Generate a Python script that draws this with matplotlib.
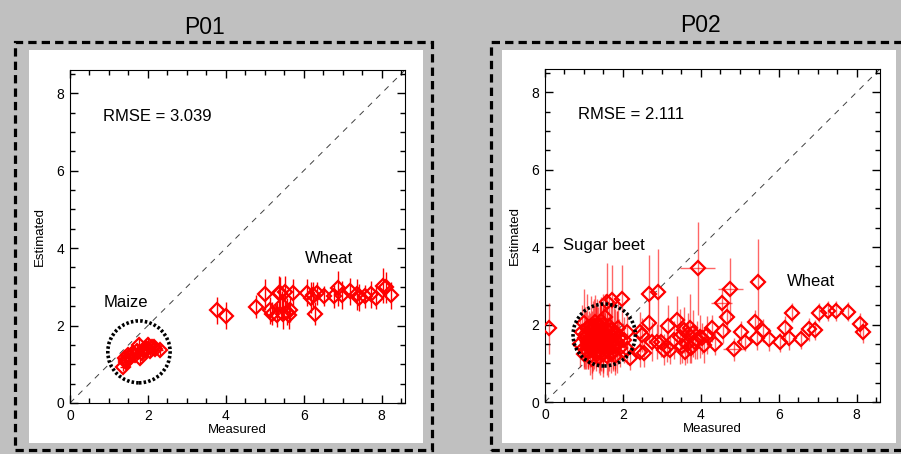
import numpy as np
import matplotlib
matplotlib.use('Agg')
import matplotlib.pyplot as plt
from matplotlib.patches import Rectangle, Circle

plt.rcParams['font.family'] = ['Liberation Sans', 'DejaVu Sans']

# ---- P01 data ----
maize_x = [1.37, 1.41, 1.45, 1.50, 1.58, 1.67, 1.76, 1.80, 1.89, 1.95, 2.01, 2.10, 2.19, 2.31,
           1.45, 1.55, 1.63, 1.72, 1.85, 1.98, 2.05, 2.15]
maize_y = [0.94, 1.15, 1.05, 1.24, 1.26, 1.24, 1.50, 1.17, 1.37, 1.42, 1.50, 1.45, 1.39, 1.37,
           1.10, 1.20, 1.30, 1.35, 1.30, 1.40, 1.35, 1.45]
maize_yerr = [0.12, 0.15, 0.12, 0.15, 0.15, 0.12, 0.2, 0.15, 0.18, 0.15, 0.2, 0.15, 0.15, 0.12,
              0.12, 0.15, 0.12, 0.18, 0.15, 0.2, 0.15, 0.15]

wheat1_x = [3.77, 4.00, 4.77, 5.01, 5.14, 5.18, 5.31, 5.36, 5.40, 5.44, 5.48, 5.53, 5.57, 5.61,
            5.66, 5.72, 6.08, 6.19, 6.24, 6.30, 6.33, 6.51, 6.77, 6.88, 6.98, 7.20, 7.37, 7.41,
            7.57, 7.73, 7.86, 8.04, 8.10, 8.24]
wheat1_y = [2.40, 2.25, 2.49, 2.81, 2.40, 2.31, 2.27, 2.83, 2.85, 2.53, 2.31, 2.87, 2.36, 2.27,
            2.40, 2.85, 2.85, 2.72, 2.78, 2.31, 2.83, 2.76, 2.76, 2.96, 2.79, 2.89, 2.81, 2.72,
            2.76, 2.81, 2.72, 3.03, 2.99, 2.78]
wheat1_yerr = [0.35, 0.35, 0.3, 0.4, 0.35, 0.3, 0.3, 0.45, 0.4, 0.35, 0.4, 0.4, 0.35, 0.35,
               0.3, 0.35, 0.35, 0.4, 0.35, 0.3, 0.3, 0.25, 0.3, 0.45, 0.35, 0.35, 0.4, 0.35,
               0.3, 0.35, 0.3, 0.45, 0.4, 0.35]

# ---- P02 data ----
beet_x = [0.90, 0.95, 0.99, 1.02, 1.05, 1.08, 1.10, 1.12, 1.15, 1.18, 1.20, 1.22, 1.25, 1.28,
          1.30, 1.33, 1.35, 1.38, 1.40, 1.42, 1.45, 1.48, 1.50, 1.52, 1.55, 1.58, 1.60, 1.63,
          1.65, 1.68, 1.71, 1.75, 1.78, 1.80, 1.85, 1.88, 1.92, 1.97, 2.02, 2.10, 2.10, 2.19,
          1.00, 1.05, 1.10, 1.15, 1.20, 1.25, 1.30, 1.35, 1.40, 1.45, 1.50, 1.55, 1.60, 1.65,
          1.70, 1.75, 1.80, 1.85, 1.90, 1.00, 1.10, 1.20, 1.30, 1.40, 1.50, 1.60, 1.70, 1.80,
          1.25, 1.45]
beet_y = [1.51, 1.80, 2.03, 1.65, 1.35, 1.90, 1.55, 1.75, 1.20, 1.95, 1.45, 1.70, 1.60, 2.07,
          1.30, 1.85, 1.50, 1.15, 1.72, 1.95, 1.40, 1.60, 1.25, 1.80, 2.20, 1.55, 2.59, 1.35,
          1.95, 1.65, 2.63, 1.45, 1.75, 1.20, 1.55, 1.90, 1.40, 2.65, 1.60, 1.82, 1.38, 1.13,
          1.40, 1.75, 1.30, 1.60, 1.85, 1.45, 1.70, 1.95, 1.30, 1.80, 1.55, 1.70, 1.20, 1.50,
          1.85, 1.30, 1.60, 1.75, 1.65, 1.25, 1.45, 1.10, 1.80, 1.55, 2.00, 1.85, 1.25, 1.45,
          1.95, 2.10]
beet_yerr = [0.6, 0.7, 0.9, 0.8, 0.5, 0.9, 0.7, 0.6, 0.5, 0.8, 0.7, 0.9, 0.6, 0.7,
             0.5, 0.8, 0.6, 0.4, 0.9, 0.7, 0.6, 0.8, 0.5, 0.7, 0.6, 0.6, 1.0, 0.7,
             0.8, 0.6, 0.9, 0.6, 0.7, 0.5, 0.8, 0.7, 0.5, 0.9, 0.6, 0.5, 0.4, 0.3,
             0.5, 0.6, 0.4, 0.7, 0.5, 0.6, 0.8, 0.5, 0.6, 0.7, 0.9, 0.6, 0.5, 0.7,
             0.6, 0.5, 0.8, 0.6, 0.5, 0.4, 0.6, 0.5, 0.7, 0.6, 0.8, 0.7, 0.5, 0.6,
             0.7, 0.6]

wheat2_x = [0.11, 2.44, 2.49, 2.43, 2.53, 2.66, 2.91, 2.66, 2.74, 2.87,
            2.97, 3.17, 3.13, 3.38, 3.21, 3.47, 3.56, 3.64, 3.73, 3.81,
            3.90, 3.92, 3.98, 4.07, 4.16, 4.28, 4.37, 4.54, 4.58, 4.67,
            4.76, 4.84, 5.04, 5.14, 5.40, 5.44, 5.48, 5.60, 5.76, 6.02,
            6.15, 6.26, 6.34, 6.56, 6.79, 6.92, 7.03, 7.27, 7.46, 7.78,
            8.08, 8.17, 3.30, 3.52, 3.68, 3.85, 4.02, 3.05, 3.60, 3.75]
wheat2_y = [1.90, 1.82, 1.73, 1.30, 1.26, 2.80, 2.85, 2.05, 1.56, 1.56,
            1.56, 1.96, 1.43, 2.13, 1.34, 1.69, 1.86, 1.51, 1.90, 1.77,
            1.60, 3.45, 1.69, 1.47, 1.73, 1.90, 1.51, 2.55, 1.83, 2.20,
            2.93, 1.36, 1.80, 1.56, 2.07, 1.64, 3.11, 1.84, 1.62, 1.54,
            1.92, 1.64, 2.31, 1.63, 1.88, 1.86, 2.31, 2.35, 2.35, 2.33,
            2.01, 1.82, 1.60, 1.45, 1.75, 1.55, 1.65, 1.35, 1.30, 1.40]
wheat2_yerr = [0.65, 0.5, 0.45, 0.4, 0.35, 1.0, 1.1, 0.55, 0.5, 0.45,
               0.4, 0.55, 0.4, 0.6, 0.35, 0.7, 0.6, 0.5, 0.9, 0.6,
               0.5, 1.2, 0.55, 0.45, 0.5, 0.35, 0.3, 0.4, 0.3, 0.4,
               0.8, 0.3, 0.3, 0.25, 0.3, 0.3, 1.1, 0.3, 0.3, 0.25,
               0.3, 0.3, 0.25, 0.25, 0.3, 0.25, 0.25, 0.25, 0.25, 0.25,
               0.3, 0.3, 0.5, 0.45, 0.55, 0.45, 0.4, 0.4, 0.35, 0.4]
wheat2_xerr = [0, 0, 0, 0, 0, 0, 0, 0, 0, 0,
               0, 0, 0, 0, 0, 0, 0, 0, 0, 0,
               0, 0.45, 0, 0, 0, 0, 0, 0.27, 0, 0,
               0.32, 0.26, 0, 0, 0, 0, 0, 0, 0, 0,
               0, 0, 0, 0, 0, 0, 0, 0, 0, 0,
               0, 0, 0, 0, 0, 0, 0, 0, 0, 0]

W, H = 901, 454
fig = plt.figure(figsize=(W / 100, H / 100), dpi=100)
fig.patch.set_facecolor('#c0c0c0')


def px_rect(x0, y0, x1, y1, **kw):
    # rectangle given in pixel coords (top-left origin)
    r = Rectangle((x0 / W, 1 - y1 / H), (x1 - x0) / W, (y1 - y0) / H,
                  transform=fig.transFigure, **kw)
    fig.patches.append(r)


# white panels and dashed frames (behind the axes)
px_rect(29, 50, 423, 443, facecolor='white', edgecolor='none', zorder=-2)
px_rect(502, 50, 896, 443, facecolor='white', edgecolor='none', zorder=-2)
px_rect(15, 42, 432, 450, facecolor='none', edgecolor='black', lw=2.3,
        linestyle=(0, (2.6, 1.6)), zorder=-1)
px_rect(491, 42, 915, 450, facecolor='none', edgecolor='black', lw=2.3,
        linestyle=(0, (2.6, 1.6)), zorder=-1)

fig.text(205 / W, 1 - 27 / H, 'P01', ha='center', va='center', fontsize=16.5)
fig.text(700 / W, 1 - 25 / H, 'P02', ha='center', va='center', fontsize=16.5)


def setup_axes(left_px, bottom_px):
    ax = fig.add_axes([left_px / W, 1 - bottom_px / H, 335 / W, 333 / H])
    ax.set_xlim(0, 8.6)
    ax.set_ylim(0, 8.6)
    ax.set_xticks([0, 2, 4, 6, 8])
    ax.set_yticks([0, 2, 4, 6, 8])
    ax.set_xticks(np.arange(0, 8.6, 0.5), minor=True)
    ax.set_yticks(np.arange(0, 8.6, 0.5), minor=True)
    ax.tick_params(which='both', direction='in', top=True, right=True, labelsize=10, width=1)
    ax.tick_params(which='major', length=6, pad=4)
    ax.tick_params(which='minor', length=3.5)
    ax.set_xlabel('Measured', fontsize=9.5, labelpad=1)
    ax.set_ylabel('Estimated', fontsize=9.5, labelpad=8)
    ax.plot([0, 8.6], [0, 8.6], color='#404040', lw=0.7, linestyle=(0, (6, 6)), zorder=1)
    return ax


style = dict(fmt='D', mfc='none', mec='red', ms=7, mew=1.6, capsize=0, zorder=3)

ax1 = setup_axes(70, 403)
ax1.errorbar(maize_x, maize_y, yerr=maize_yerr, xerr=0.08, ecolor='red', elinewidth=1, **style)
ax1.errorbar(wheat1_x, wheat1_y, yerr=wheat1_yerr, ecolor='red', elinewidth=1, **style)
ax1.text(0.85, 7.4, 'RMSE = 3.039', fontsize=12, va='center')
ax1.text(0.87, 2.6, 'Maize', fontsize=12, va='center')
ax1.text(6.04, 3.74, 'Wheat', fontsize=12, va='center')
ax1.add_patch(Circle((1.77, 1.32), 0.8, fill=False, edgecolor='black', lw=2.6,
                     linestyle=(0, (0.7, 0.6)), zorder=4))

ax2 = setup_axes(545, 402)
ax2.errorbar(beet_x, beet_y, yerr=beet_yerr, ecolor=(1, 0, 0, 0.6), elinewidth=1, **style)
ax2.errorbar(wheat2_x, wheat2_y, yerr=wheat2_yerr, xerr=wheat2_xerr, ecolor=(1, 0, 0, 0.6),
             elinewidth=1, **style)
ax2.text(0.85, 7.43, 'RMSE = 2.111', fontsize=12, va='center')
ax2.text(0.46, 4.05, 'Sugar beet', fontsize=12, va='center')
ax2.text(6.2, 3.1, 'Wheat', fontsize=12, va='center')
ax2.add_patch(Circle((1.52, 1.73), 0.8, fill=False, edgecolor='black', lw=2.6,
                     linestyle=(0, (0.7, 0.6)), zorder=4))

fig.savefig('out.png', dpi=100, facecolor=fig.get_facecolor())
